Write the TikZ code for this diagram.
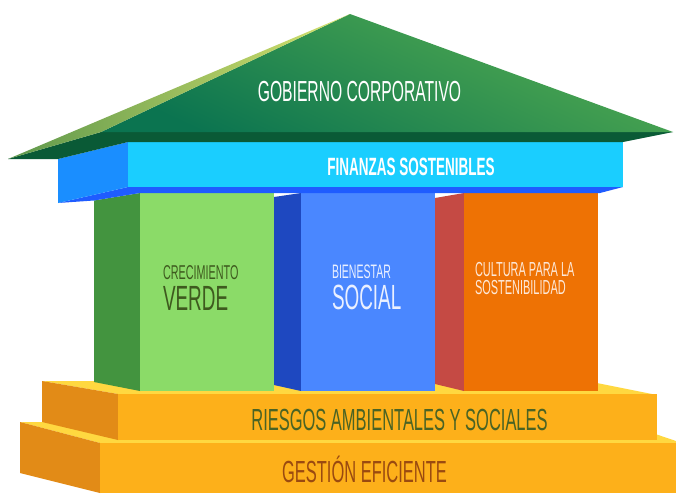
\documentclass[tikz,border=0pt]{standalone}
\usepackage{fontspec}
\newfontfamily\cond[FakeStretch=0.54]{Liberation Sans}
\definecolor{roofLight}{HTML}{55AD50}
\definecolor{roofDark}{HTML}{0B7450}
\definecolor{facetLight}{HTML}{D6E26E}
\definecolor{facetDark}{HTML}{5E984C}
\definecolor{roofUnder}{HTML}{0A5A36}
\definecolor{beamFront}{HTML}{1ACEFF}
\definecolor{beamSide}{HTML}{1A8EFF}
\definecolor{beamBottom}{HTML}{1F5CFF}
\definecolor{gFront}{HTML}{8BDB68}
\definecolor{gSide}{HTML}{43943F}
\definecolor{bFront}{HTML}{4A87FF}
\definecolor{bSide}{HTML}{1E48C0}
\definecolor{oFront}{HTML}{EE7204}
\definecolor{oSide}{HTML}{C54A44}
\definecolor{stepFront}{HTML}{FDB01A}
\definecolor{stepSide}{HTML}{E28B17}
\definecolor{stepTop}{HTML}{FFD840}
\definecolor{txtGreen}{HTML}{3E5A1E}
\definecolor{txtBlue}{HTML}{EAF0FF}
\definecolor{txtOrange}{HTML}{FDE8D8}
\definecolor{txtRiesgos}{HTML}{4A6324}
\definecolor{txtGestion}{HTML}{9A4A10}
\tikzset{lbl/.style={inner sep=0pt, outer sep=0pt}}
\begin{document}
\begin{tikzpicture}[x=1pt,y=-1pt]
\useasboundingbox (0,0) rectangle (676,493);
% lower step
\fill[stepTop] (20,422) -- (620,422) -- (676,441) -- (676,443) -- (100,443) -- cycle;
\fill[stepSide] (20,422) -- (100,443) -- (100,493) -- (20,473) -- cycle;
\fill[stepFront] (100,443) rectangle (676,493);
% upper step
\fill[stepTop] (42,381) -- (597,383) -- (657,395) -- (118,394) -- cycle;
\fill[stepSide] (42,381) -- (118,394) -- (118,440) -- (42,422) -- cycle;
\fill[stepFront] (118,394) rectangle (657,440);
% pillars
\fill[gSide] (94,200.5) -- (140,193) -- (140,391) -- (94,382) -- cycle;
\fill[gFront] (140,193) rectangle (274,391);
\fill[bSide] (274,197) -- (301,193) -- (301,391) -- (274,385) -- cycle;
\fill[bFront] (301,193) rectangle (435,391);
\fill[oSide] (435,198) -- (464,193) -- (464,391) -- (435,384) -- cycle;
\fill[oFront] (464,193) rectangle (598,391);
% beam
\fill[beamBottom] (58,203) -- (128,187) -- (623,187) -- (600,193) -- (140,193) -- (94,200.5) -- cycle;
\fill[beamSide] (58,159) -- (128,142) -- (128,187) -- (58,203) -- cycle;
\fill[beamFront] (128,142) rectangle (623,187);
% roof
\fill[roofUnder] (8,159) -- (101,132) -- (673,132) -- (623,142) -- (128,142) -- (58,159) -- cycle;
\shade[top color=roofLight, bottom color=roofDark, shading angle=-25] (101,132) -- (350,14) -- (673,132) -- cycle;
\shade[left color=facetDark, right color=facetLight] (8,159) -- (350,14) -- (101,132) -- cycle;
% texts
\node[lbl, anchor=base, text=white] (gob) at (359.5,101) {\fontsize{29}{30}\cond GOBIERNO CORPORATIVO};
\node[lbl, anchor=base, text=white] (fin) at (411,175) {\fontsize{25}{26}\cond\bfseries FINANZAS SOSTENIBLES};
\node[lbl, anchor=base west, text=txtGreen] (cre) at (163,279) {\fontsize{20}{21}\cond CRECIMIENTO};
\node[lbl, anchor=base west, text=txtGreen] (ver) at (163,310) {\fontsize{35}{36}\cond VERDE};
\node[lbl, anchor=base west, text=txtBlue] (bie) at (332,278) {\fontsize{19.5}{20}\cond BIENESTAR};
\node[lbl, anchor=base west, text=txtBlue] (soc) at (332,309) {\fontsize{35}{36}\cond SOCIAL};
\node[lbl, anchor=north west, text=txtOrange, align=left, font=\fontsize{20.3}{18}\cond] (cul) at (475,262) {CULTURA PARA LA\\SOSTENIBILIDAD};
\node[lbl, anchor=base, text=txtRiesgos] (rie) at (399.5,430) {\fontsize{30.5}{32}\cond RIESGOS AMBIENTALES Y SOCIALES};
\node[lbl, anchor=base, text=txtGestion] (ges) at (364.5,482) {\fontsize{30.5}{32}\cond GESTIÓN EFICIENTE};
\end{tikzpicture}
\end{document}
